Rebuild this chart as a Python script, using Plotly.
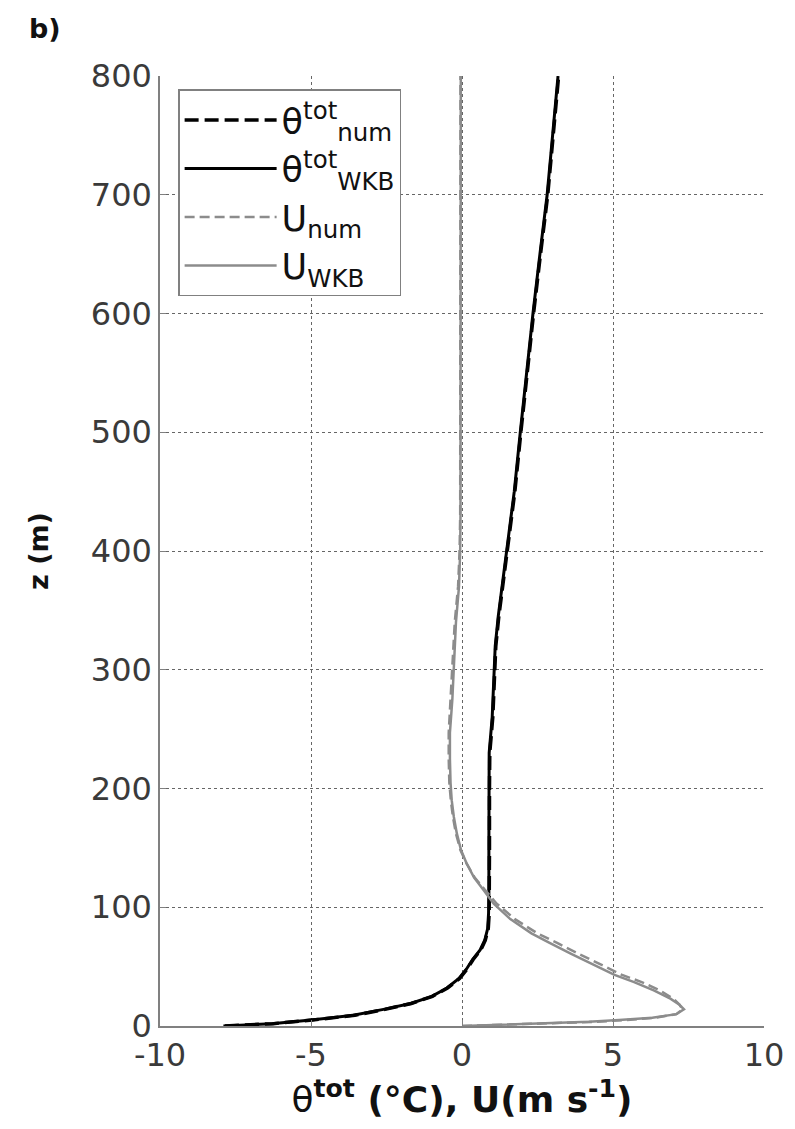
import plotly.graph_objects as go

# ---- data ----
z_theta = [0, 2, 5, 9, 14, 19, 25, 32, 40, 48, 56, 64, 72, 82, 95, 110, 150, 200, 230,
           260, 290, 320, 345, 375, 400, 450, 500, 550, 600, 650, 700, 750, 800]
theta_wkb = [-7.9, -6.3, -5.0, -3.6, -2.6, -1.7, -1.0, -0.5, -0.1, 0.15, 0.35, 0.6, 0.75,
             0.85, 0.88, 0.89, 0.89, 0.89, 0.9, 1.0, 1.04, 1.1, 1.2, 1.35, 1.5, 1.73, 1.93,
             2.13, 2.35, 2.58, 2.82, 3.0, 3.18]
theta_num = [-7.85, -6.25, -4.95, -3.55, -2.55, -1.68, -0.98, -0.48, -0.08, 0.17, 0.37, 0.62,
             0.77, 0.87, 0.9, 0.91, 0.91, 0.91, 0.92, 1.02, 1.06, 1.12, 1.22, 1.37, 1.52,
             1.75, 1.95, 2.15, 2.37, 2.6, 2.84, 3.02, 3.2]

z_u = [0, 1, 2, 3.5, 5, 7, 10, 14, 18, 23, 30, 37, 43, 52, 61, 70, 78, 90, 103, 115, 125,
       137, 148, 162, 176, 190, 205, 225, 247, 275, 300, 340, 370, 400, 430, 500, 600, 700, 800]
u_wkb = [0, 1.3, 2.6, 4.2, 5.2, 6.3, 7.1, 7.35, 7.2, 6.9, 6.35, 5.7, 5.05, 4.3, 3.6, 2.9, 2.3,
         1.6, 1.05, 0.7, 0.4, 0.15, -0.03, -0.17, -0.27, -0.34, -0.38, -0.4, -0.4, -0.32,
         -0.27, -0.2, -0.1, -0.06, -0.05, -0.05, -0.05, -0.04, -0.04]
u_num = [0, 1.4, 2.8, 4.4, 5.4, 6.4, 7.1, 7.3, 7.2, 7.0, 6.55, 5.95, 5.3, 4.55, 3.85, 3.15,
         2.5, 1.75, 1.15, 0.75, 0.42, 0.15, -0.05, -0.2, -0.3, -0.37, -0.42, -0.44, -0.44,
         -0.38, -0.33, -0.24, -0.13, -0.08, -0.06, -0.06, -0.05, -0.05, -0.05]

x_ticks = [-10, -5, 0, 5, 10]
x_ticktext = ["-10", "-5", "0", "5", "10"]
y_ticks = [0, 100, 200, 300, 400, 500, 600, 700, 800]

names = ["θ<sup>tot</sup><sub>num</sub>", "θ<sup>tot</sup><sub>WKB</sub>",
         "U<sub>num</sub>", "U<sub>WKB</sub>"]

BLACK = "#000000"
GRAY = "#8c8c8c"
FONT = "DejaVu Sans"

fig = go.Figure()
fig.add_trace(go.Scatter(x=theta_num, y=z_theta, mode="lines", name=names[0],
                         line=dict(color=BLACK, width=3.5, dash="14px,6px")))
fig.add_trace(go.Scatter(x=theta_wkb, y=z_theta, mode="lines", name=names[1],
                         line=dict(color=BLACK, width=3)))
fig.add_trace(go.Scatter(x=u_num, y=z_u, mode="lines", name=names[2],
                         line=dict(color=GRAY, width=2.5, dash="10px,5px")))
fig.add_trace(go.Scatter(x=u_wkb, y=z_u, mode="lines", name=names[3],
                         line=dict(color=GRAY, width=2.5)))

axis_common = dict(
    showgrid=True, gridcolor="#666666", gridwidth=1, griddash="3px,3px",
    showline=True, linecolor="#808080", linewidth=1.5,
    ticks="inside", ticklen=6, tickcolor="#808080",
    tickfont=dict(family=FONT, size=32, color="#3a3a3a"),
    zeroline=False,
)

fig.update_xaxes(range=[-10, 10], tickmode="array", tickvals=x_ticks, ticktext=x_ticktext,
                 title=dict(text="<span style='font-weight:normal'>θ</span><sup>tot</sup> (°C), U(m s<sup>-1</sup>)",
                            font=dict(family=FONT, size=36, color="#111111", weight="bold"),
                            standoff=12),
                 **axis_common)
fig.update_yaxes(range=[0, 800], tickmode="array", tickvals=y_ticks,
                 title=dict(text="z (m)", font=dict(family=FONT, size=27, color="#111111", weight="bold"),
                            standoff=34),
                 **axis_common)

fig.add_annotation(text="b)", xref="paper", yref="paper", x=-0.19, y=1.05,
                   xanchor="center", yanchor="middle", showarrow=False,
                   font=dict(family=FONT, size=27, color="#111111", weight="bold"))

fig.update_layout(
    width=795, height=1129,
    margin=dict(l=160, r=31, t=76, b=103),
    paper_bgcolor="white", plot_bgcolor="white",
    showlegend=True,
    legend=dict(x=0.03, y=0.986, xanchor="left", yanchor="top",
                bgcolor="white", bordercolor="#808080", borderwidth=1.5,
                itemwidth=92, tracegroupgap=0,
                font=dict(family=FONT, size=35, color="#111111")),
)

fig.write_html("out.html", config={"displayModeBar": False},
               post_script="document.body.style.margin='0';document.body.style.padding='0';")
